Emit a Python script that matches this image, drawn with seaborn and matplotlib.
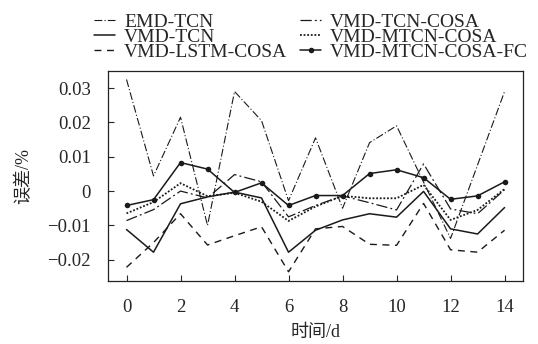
import numpy as np
import pandas as pd
import matplotlib
matplotlib.use("Agg")
import matplotlib.pyplot as plt
import seaborn as sns

days = list(range(15))

emd_tcn = [0.0325, 0.0044, 0.0215, -0.0100, 0.0290, 0.0205, -0.0028, 0.0155,
           -0.0050, 0.0141, 0.0190, 0.0026, -0.0138, 0.0076, 0.0290]
vmd_tcn = [-0.0112, -0.0178, -0.0037, -0.0017, -0.0003, -0.0020, -0.0178, -0.0114,
           -0.0084, -0.0066, -0.0076, -0.0001, -0.0110, -0.0125, -0.0048]
vmd_lstm_cosa = [-0.0222, -0.0150, -0.0066, -0.0157, -0.0130, -0.0104, -0.0235, -0.0110,
                 -0.0103, -0.0155, -0.0158, -0.0036, -0.0171, -0.0178, -0.0114]
vmd_tcn_cosa = [-0.0086, -0.0054, 0.0000, -0.0020, 0.0048, 0.0027, -0.0075, -0.0042,
                -0.0014, -0.0034, -0.0055, 0.0079, -0.0052, -0.0066, 0.0004]
vmd_mtcn_cosa = [-0.0065, -0.0032, 0.0023, -0.0015, -0.0005, -0.0031, -0.0087, -0.0045,
                 -0.0014, -0.0021, -0.0021, 0.0018, -0.0084, -0.0055, 0.0006]
vmd_mtcn_cosa_fc = [-0.0042, -0.0025, 0.0083, 0.0064, -0.0004, 0.0024, -0.0042, -0.0013,
                    -0.0013, 0.0051, 0.0062, 0.0039, -0.0024, -0.0014, 0.0027]

labels = ["EMD-TCN", "VMD-TCN", "VMD-LSTM-COSA",
          "VMD-TCN-COSA", "VMD-MTCN-COSA", "VMD-MTCN-COSA-FC"]
series = [emd_tcn, vmd_tcn, vmd_lstm_cosa, vmd_tcn_cosa, vmd_mtcn_cosa, vmd_mtcn_cosa_fc]

# line looks per model
styles = [
    dict(ls=(0, (7, 2, 1, 2)), lw=0.8, marker=None),
    dict(ls="-", lw=1.1, marker=None),
    dict(ls=(0, (5, 4)), lw=1.0, marker=None),
    dict(ls=(0, (9, 2.5, 1.5, 2.5)), lw=0.9, marker=None),
    dict(ls=(0, (1, 1)), lw=1.3, marker=None),
    dict(ls="-", lw=1.1, marker="o"),
]

sns.set_style("ticks")
plt.rcParams["font.family"] = ["Liberation Serif", "Noto Sans CJK SC"]
plt.rcParams["xtick.direction"] = "in"
plt.rcParams["ytick.direction"] = "in"

fig = plt.figure(figsize=(5.38, 3.44), dpi=100)
ax = fig.add_axes([0.2, 0.183, 0.772, 0.611])

for lab, vals, st in zip(labels, series, styles):
    df = pd.DataFrame({"day": days, "err": vals})
    sns.lineplot(data=df, x="day", y="err", ax=ax, color="#1a1a1a",
                 linestyle=st["ls"], linewidth=st["lw"], marker=st["marker"],
                 markersize=4, markeredgewidth=0, label=lab)

ax.set_xlim(-0.7, 14.68)
ax.set_ylim(-0.0262, 0.035)
ax.set_xticks(range(0, 15, 2))
ax.set_yticks([-0.02, -0.01, 0, 0.01, 0.02, 0.03])
ax.set_yticklabels(["\u22120.02", "\u22120.01", "0", "0.01", "0.02", "0.03"])
ax.tick_params(labelsize=13.5, length=4, width=0.8)
ax.tick_params(axis="x", pad=13)
ax.tick_params(axis="y", pad=12)
for s in ax.spines.values():
    s.set_linewidth(0.9)
    s.set_color("#222222")

ax.set_xlabel("时间/d", fontsize=13, labelpad=6)
ax.set_ylabel("误差/%", fontsize=13, labelpad=11)

ax.legend(loc="lower center", bbox_to_anchor=(0.49, 0.99), ncol=2, frameon=False,
          fontsize=14, handlelength=1.1, handletextpad=0.45, labelspacing=-0.12,
          columnspacing=0.65, borderaxespad=0.2)

fig.savefig("out.png", dpi=100)
